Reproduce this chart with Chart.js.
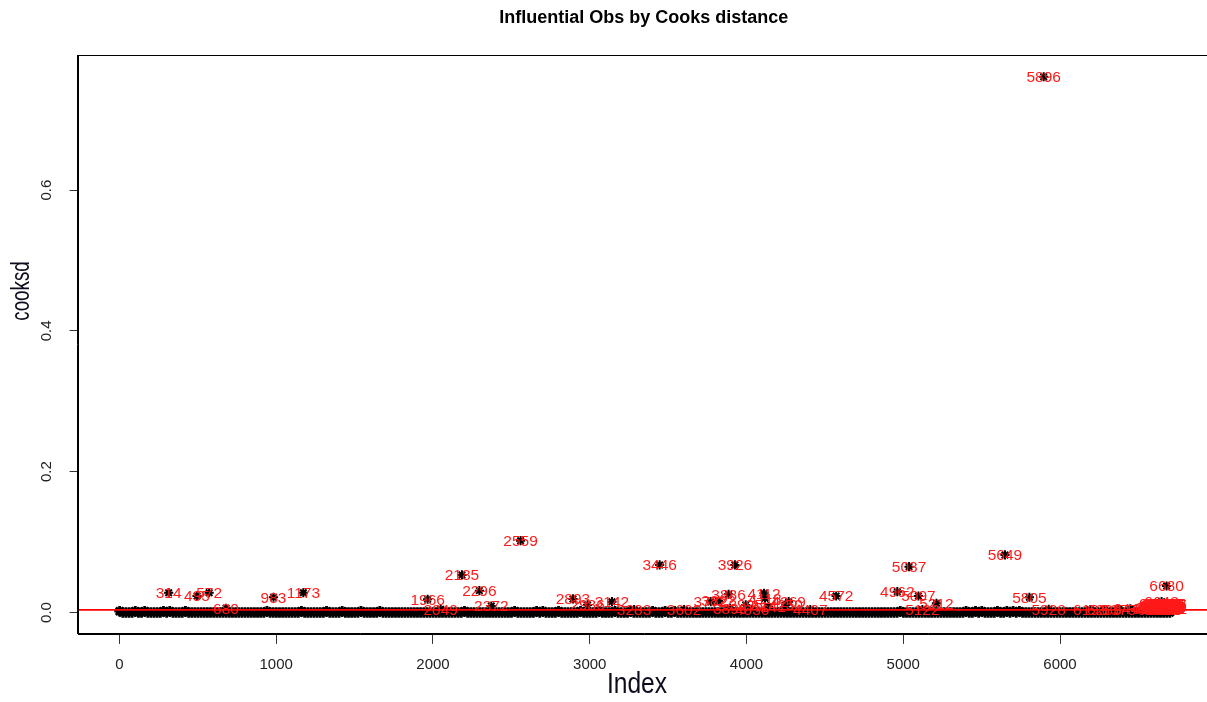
<!DOCTYPE html>
<html>
<head>
<meta charset="utf-8">
<title>Influential Obs by Cooks distance</title>
<script src="https://cdn.jsdelivr.net/npm/chart.js@4.4.1/dist/chart.umd.min.js"></script>
<style>
  html, body { margin: 0; padding: 0; background: #ffffff; overflow: hidden; }
  #wrap { position: relative; width: 1220px; height: 702px; }
</style>
</head>
<body>
<div id="wrap"><canvas id="cooks"></canvas></div>
<script>
// Cook's distance of every observation in the fitted model.
const nObs = 6701;

// Ordinary observations, one entry for every 20th index (1, 21, 41, ...).
const baseStep = 20;
const baseCooksd = [
  .0018,0,0,0,0,.0018,0,0,.0018,0,0,0,0,0,.0018,0,.0018,0,0,0,0,.0018,0,0,
  0,0,0,0,0,0,0,0,0,0,0,0,0,0,0,0,0,0,0,0,0,0,0,.0018,
  0,0,0,0,0,0,0,0,0,0,.0018,0,0,0,0,0,0,0,.0018,0,0,0,0,.0018,
  0,0,0,0,0,.0018,0,0,0,0,0,.0018,0,0,0,0,0,0,0,0,0,0,0,0,
  0,0,0,0,0,0,0,0,0,0,0,0,0,0,.0018,0,0,0,0,0,0,0,0,0,
  0,0,0,0,0,0,.0018,0,0,0,0,0,0,.0018,0,.0018,0,0,0,0,.0018,0,0,0,
  0,0,0,.0018,0,0,0,0,0,.0018,0,0,0,0,.0018,0,0,0,0,.0018,0,0,0,0,
  0,0,.0018,0,0,0,.0018,0,0,.0018,0,0,0,0,0,0,0,0,0,0,0,0,0,0,
  0,0,0,0,0,0,0,0,0,0,0,0,0,0,0,0,0,0,0,0,0,0,0,0,
  0,0,0,0,0,0,0,0,0,0,0,0,0,0,0,0,0,0,0,0,0,0,0,0,
  0,0,0,0,0,0,0,0,0,.0018,0,0,0,0,0,0,0,0,0,0,0,0,0,0,
  0,0,0,0,0,0,.0018,0,0,.0018,0,.0018,0,0,0,0,.0018,0,0,.0018,0,.0018,0,.0018,
  0,0,0,0,0,0,0,0,0,0,0,0,0,0,0,0,0,0,0,0,0,0,0,0,
  0,0,0,0,0,0,0,0,0,0,0,0,0,0,0,0,0,0,0,0,0,0,0,0
];

// Observations above the cut-off, labelled with their index.
const flaggedIndex = [
  314, 495, 572, 680, 983, 1173, 1966, 2049, 2185, 2296, 2372,
  2559, 2893, 2986, 3142, 3283, 3446, 3602, 3772, 3822, 3886, 3896,
  3926, 3995, 4036, 4112, 4118, 4141, 4250, 4269, 4407, 4572, 4962,
  5037, 5097, 5122, 5212, 5649, 5805, 5896, 5928, 6193, 6283, 6375,
  6449, 6571, 6588, 6602, 6606, 6612, 6615, 6619, 6623, 6627, 6631,
  6634, 6638, 6641, 6644, 6646, 6648, 6650, 6652, 6655, 6657, 6660,
  6663, 6666, 6668, 6670, 6672, 6674, 6676, 6678, 6680, 6682, 6684,
  6686, 6689, 6691, 6693, 6695, 6697, 6699, 6701
];
const flaggedCooksd = [
  0.0281, 0.0234, 0.0281, 0.0060, 0.0216, 0.0281, 0.0188, 0.0045, 0.0533, 0.0310, 0.0092,
  0.1020, 0.0192, 0.0107, 0.0153, 0.0040, 0.0675, 0.0040, 0.0153, 0.0163, 0.0259, 0.0060,
  0.0675, 0.0107, 0.0040, 0.0273, 0.0202, 0.0082, 0.0107, 0.0153, 0.0040, 0.0234, 0.0295,
  0.0651, 0.0234, 0.0040, 0.0131, 0.0817, 0.0216, 0.7611, 0.0045, 0.0040, 0.0040, 0.0045,
  0.0050, 0.0050, 0.0072, 0.0045, 0.0068, 0.0118, 0.0101, 0.0080, 0.0060, 0.0093, 0.0128,
  0.0058, 0.0043, 0.0110, 0.0085, 0.0070, 0.0153, 0.0125, 0.0055, 0.0082, 0.0112, 0.0060,
  0.0040, 0.0118, 0.0095, 0.0045, 0.0065, 0.0090, 0.0120, 0.0062, 0.0376, 0.0115, 0.0048,
  0.0075, 0.0088, 0.0058, 0.0070, 0.0122, 0.0105, 0.0080, 0.0052
];

// Horizontal reference line: 4 * mean(cooksd)
const cutoff = 0.0036;

const xTickValues = [0, 1000, 2000, 3000, 4000, 5000, 6000];
const yTickValues = [0, 0.2, 0.4, 0.6];
const yTickLabels = ['0.0', '0.2', '0.4', '0.6'];

const titleText = 'Influential Obs by Cooks distance';
const xTitle = 'Index';
const yTitle = 'cooksd';

// ---------------------------------------------------------------------------
const basePoints = baseCooksd.map((v, k) => ({ x: 1 + k * baseStep, y: v }));
const flaggedPoints = flaggedIndex.map((ix, k) => ({ x: ix, y: flaggedCooksd[k] }));

// axis extents padded by 4% on each side
const maxCooksd = Math.max(...flaggedCooksd, ...baseCooksd);
const xPad = 0.04 * (nObs - 1);
const yPad = 0.04 * maxCooksd;

const FONT = '"Liberation Sans", Arial, sans-serif';

function starStyle(radius, width) {
  return {
    showLine: false,
    pointStyle: 'star',
    pointRadius: radius,
    pointHoverRadius: radius,
    pointBorderWidth: width,
    borderColor: '#000000',
    backgroundColor: '#000000'
  };
}

const overlay = {
  id: 'cooksOverlay',
  afterDatasetsDraw(chart) {
    const { ctx, chartArea: a, scales: { x, y } } = chart;
    ctx.save();
    // cut-off line
    const yc = y.getPixelForValue(cutoff);
    ctx.strokeStyle = '#ff0000';
    ctx.lineWidth = 1.7;
    ctx.beginPath();
    ctx.moveTo(a.left, yc);
    ctx.lineTo(a.right, yc);
    ctx.stroke();
    // labels of flagged observations
    ctx.fillStyle = '#ff1a1a';
    ctx.font = '15.5px ' + FONT;
    ctx.textAlign = 'center';
    ctx.textBaseline = 'middle';
    flaggedIndex.forEach((ix, k) => {
      ctx.fillText(String(ix), x.getPixelForValue(ix), y.getPixelForValue(flaggedCooksd[k]) + 1);
    });
    ctx.restore();
  },
  afterDraw(chart) {
    const { ctx, chartArea: a, scales: { y } } = chart;
    ctx.save();
    // plot frame
    ctx.strokeStyle = '#000000';
    ctx.lineWidth = 1;
    ctx.strokeRect(Math.round(a.left) + 0.5, Math.round(a.top) + 0.5,
                   Math.round(a.right - a.left), Math.round(a.bottom - a.top));
    // main title
    ctx.fillStyle = '#000000';
    ctx.font = 'bold 18px ' + FONT;
    ctx.textAlign = 'center';
    ctx.textBaseline = 'middle';
    ctx.fillText(titleText, (a.left + a.right) / 2 - 1, 18);
    // y tick labels, parallel to the axis
    ctx.fillStyle = '#222222';
    ctx.font = '15px ' + FONT;
    yTickValues.forEach((v, k) => {
      ctx.save();
      ctx.translate(47, y.getPixelForValue(v));
      ctx.rotate(-Math.PI / 2);
      ctx.fillText(yTickLabels[k], 0, 0);
      ctx.restore();
    });
    // axis titles in a condensed face
    ctx.fillStyle = '#0c0c1c';
    ctx.font = '30px ' + FONT;
    ctx.textAlign = 'center';
    ctx.save();
    ctx.translate(637, 685);
    ctx.scale(0.82, 1);
    ctx.fillText(xTitle, 0, 0);
    ctx.restore();
    ctx.save();
    ctx.translate(22, 291);
    ctx.rotate(-Math.PI / 2);
    ctx.scale(0.72, 1);
    ctx.font = '26px ' + FONT;
    ctx.fillText(yTitle, 0, 0);
    ctx.restore();
    ctx.restore();
  }
};

new Chart(document.getElementById('cooks'), {
  type: 'scatter',
  data: {
    datasets: [
      Object.assign({ label: 'cooksd', data: basePoints }, starStyle(5.3, 2.8)),
      Object.assign({ label: 'flagged', data: flaggedPoints }, starStyle(4.6, 2))
    ]
  },
  options: {
    responsive: true,
    maintainAspectRatio: false,
    animation: false,
    events: [],
    layout: { padding: { left: 0, top: 55.3, right: 6.4, bottom: 0 } },
    plugins: {
      legend: { display: false },
      tooltip: { enabled: false },
      title: { display: false }
    },
    scales: {
      x: {
        type: 'linear',
        min: 1 - xPad,
        max: nObs + xPad,
        afterBuildTicks: s => { s.ticks = xTickValues.map(v => ({ value: v })); },
        afterFit: s => { s.height = 68.1; },
        grid: { drawOnChartArea: false, drawTicks: true, tickLength: 10, tickColor: '#333333', tickWidth: 1 },
        border: { display: true, color: '#000000', width: 1 },
        ticks: {
          autoSkip: false, maxRotation: 0, minRotation: 0, padding: 12,
          color: '#222222', font: { family: FONT, size: 15 },
          callback: v => String(v)
        }
      },
      y: {
        type: 'linear',
        min: 0 - yPad,
        max: maxCooksd + yPad,
        afterBuildTicks: s => { s.ticks = yTickValues.map(v => ({ value: v })); },
        afterFit: s => { s.width = 77.6; },
        grid: { drawOnChartArea: false, drawTicks: true, tickLength: 8, tickColor: '#333333', tickWidth: 1 },
        border: { display: true, color: '#000000', width: 1 },
        ticks: { display: false }
      }
    }
  },
  plugins: [overlay]
});
</script>
</body>
</html>
